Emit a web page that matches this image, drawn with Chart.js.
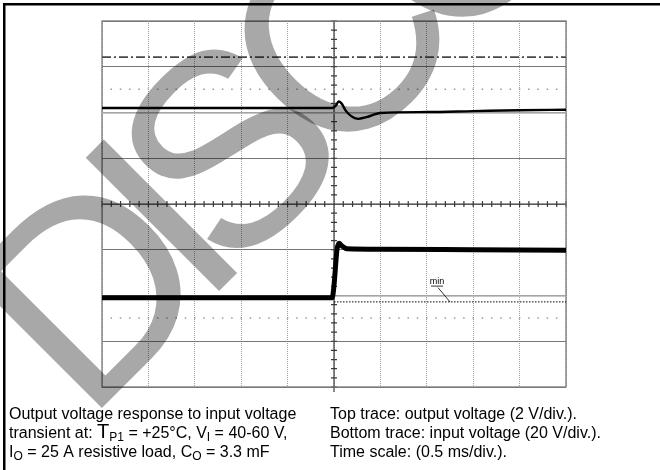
<!doctype html>
<html lang="en">
<head>
<meta charset="utf-8">
<title>Output voltage response to input voltage transient</title>
<script src="https://cdn.jsdelivr.net/npm/chart.js@4.4.1/dist/chart.umd.min.js"></script>
<style>
  body { margin: 0; background: #fff; }
  canvas { display: block; }
</style>
</head>
<body>
<canvas id="scope" width="660" height="470"></canvas>
<script>
// time in ms (0.5 ms/div), levels in screen divisions (8 div high)
var outT = [-2.5, -1.5, -0.5, -0.02, 0.02, 0.05, 0.08, 0.13, 0.2, 0.26, 0.35, 0.5, 1.0, 1.5, 2.0, 2.5];
var outV = [2.10, 2.10, 2.10, 2.10, 2.15, 2.24, 2.20, 2.03, 1.90, 1.86, 1.90, 1.99, 2.01, 2.03, 2.05, 2.06];

var inT = [-2.5, -1.0, -0.02, 0, 0.022, 0.032, 0.054, 0.086, 0.14, 0.5, 1.5, 2.5];
var inV = [-2.05, -2.05, -2.05, -1.78, -1.22, -1.0, -0.86, -0.92, -0.98, -0.99, -1.0, -1.01];

var dashDotLevel = 3.21;
var grayLevels = [1.99, -2.01];
var dottedLevels = [2.51, -2.49];
var minLevel = -2.14;
var minStart = 0;

var tRange = [-2.5, 2.5];
var divRange = [-4, 4];

var caption = [
  [{t: 'Output voltage response to input voltage'}],
  [{t: 'transient at: '}, {t: 'T', big: true}, {t: 'P1', sub: true}, {t: ' = +25\u00b0C, V'}, {t: 'I', sub: true}, {t: ' = 40-60 V,'}],
  [{t: 'I'}, {t: 'O', sub: true}, {t: ' = 25 A resistive load, C'}, {t: 'O', sub: true}, {t: ' = 3.3 mF'}]
];
var notes = ['Top trace: output voltage (2 V/div.).', 'Bottom trace: input voltage (20 V/div.).', 'Time scale: (0.5 ms/div.).'];

function pts(xs, ys) {
  return xs.map(function (x, i) { return {x: x, y: ys[i]}; });
}
function level(v, from) {
  return [{x: from, y: v}, {x: tRange[1], y: v}];
}

var datasets = [
  {label: 'Output voltage', data: pts(outT, outV), borderColor: '#000', borderWidth: 2.4, cubicInterpolationMode: 'monotone'},
  {label: 'Input voltage', data: pts(inT, inV), borderColor: '#000', borderWidth: 5, cubicInterpolationMode: 'monotone'},
  {label: 'min', data: level(minLevel, minStart), borderColor: '#000', borderWidth: 1, borderDash: [1.5, 1.5]},
  {label: 'ref', data: level(dashDotLevel, tRange[0]), borderColor: '#4a4a4a', borderWidth: 1.6, borderDash: [9, 3, 2, 3]},
  {label: 'g1', data: level(grayLevels[0], tRange[0]), borderColor: '#b4b4b4', borderWidth: 1.5},
  {label: 'g2', data: level(grayLevels[1], tRange[0]), borderColor: '#b4b4b4', borderWidth: 1.5},
  {label: 'd1', data: level(dottedLevels[0], tRange[0]), borderColor: '#9a9a9a', borderWidth: 1.5, borderDash: [1.5, 7.78], borderDashOffset: -8.5},
  {label: 'd2', data: level(dottedLevels[1], tRange[0]), borderColor: '#9a9a9a', borderWidth: 1.5, borderDash: [1.5, 7.78], borderDashOffset: -8.5}
];

var scopeDecor = {
  id: 'scopeDecor',
  beforeDatasetsDraw: function (chart) {
    var ctx = chart.ctx, a = chart.chartArea;
    var xs = chart.scales.x, ys = chart.scales.y;
    var cx = xs.getPixelForValue(0), cy = ys.getPixelForValue(0);
    ctx.save();
    ctx.strokeStyle = '#3a3a3a';
    ctx.lineWidth = 1.2;
    ctx.beginPath();
    ctx.moveTo(cx, a.top); ctx.lineTo(cx, a.bottom + 5);
    ctx.moveTo(a.left, cy); ctx.lineTo(a.right, cy);
    var t, d;
    for (t = tRange[0]; t <= tRange[1] + 1e-6; t += 0.1) {
      var px = xs.getPixelForValue(t);
      ctx.moveTo(px, cy - 3); ctx.lineTo(px, cy + 3);
    }
    for (d = divRange[0]; d <= divRange[1] + 1e-6; d += 0.2) {
      var py = ys.getPixelForValue(d);
      ctx.moveTo(cx - 3, py); ctx.lineTo(cx + 3, py);
    }
    ctx.stroke();
    ctx.strokeStyle = '#7a7a7a';
    ctx.lineWidth = 1.3;
    ctx.strokeRect(a.left, a.top, a.right - a.left, a.bottom - a.top);
    ctx.restore();
  },
  afterDraw: function (chart) {
    var ctx = chart.ctx;
    var xs = chart.scales.x, ys = chart.scales.y;
    ctx.save();
    // "min" marker
    var lx = xs.getPixelForValue(1.11), ly = ys.getPixelForValue(minLevel + 0.4);
    ctx.fillStyle = '#000';
    ctx.font = '9px "Liberation Sans", Arial, sans-serif';
    ctx.textAlign = 'center';
    ctx.fillText('min', lx, ly);
    ctx.strokeStyle = '#000';
    ctx.lineWidth = 0.8;
    ctx.beginPath();
    ctx.moveTo(lx - 6, ly + 2.5); ctx.lineTo(lx + 6, ly + 2.5);
    ctx.moveTo(lx + 1, ly + 4); ctx.lineTo(xs.getPixelForValue(1.25), ys.getPixelForValue(minLevel));
    ctx.stroke();

    // page frame
    ctx.fillStyle = '#000';
    ctx.fillRect(3, 3, chart.width - 3, 2.5);
    ctx.fillRect(3, 3, 2.5, chart.height - 3);

    // caption
    ctx.textAlign = 'left';
    var base = [419, 438, 457];
    caption.forEach(function (segs, i) {
      var x = 9;
      segs.forEach(function (s) {
        var size = s.big ? 20 : (s.sub ? 12 : 16);
        ctx.font = size + 'px "Liberation Sans", Arial, sans-serif';
        ctx.fillText(s.t, x, base[i] + (s.sub ? 3 : 0));
        x += ctx.measureText(s.t).width;
      });
    });
    ctx.font = '16px "Liberation Sans", Arial, sans-serif';
    notes.forEach(function (n, i) { ctx.fillText(n, 330, base[i]); });

    // watermark, letters drawn one by one with tight spacing
    ctx.globalCompositeOperation = 'multiply';
    ctx.fillStyle = '#a8a8a8';
    ctx.font = '274px "Liberation Sans", Arial, sans-serif';
    ctx.translate(86, 424);
    ctx.rotate(-Math.PI / 4);
    var wx = 0;
    'DISCONTINUED'.split('').forEach(function (ch) {
      ctx.fillText(ch, wx, 0);
      wx += ctx.measureText(ch).width - 35;
    });
    ctx.restore();
  }
};

new Chart(document.getElementById('scope'), {
  type: 'line',
  data: {datasets: datasets},
  options: {
    responsive: false,
    animation: false,
    layout: {padding: {left: 102, right: 94, top: 21, bottom: 83}},
    elements: {point: {radius: 0}, line: {tension: 0}},
    plugins: {legend: {display: false}, tooltip: {enabled: false}},
    scales: {
      x: {
        type: 'linear', min: tRange[0], max: tRange[1],
        ticks: {display: false, stepSize: 0.5},
        grid: {color: '#9c9c9c', lineWidth: 1, drawTicks: false},
        border: {display: false, dash: [1, 1]}
      },
      y: {
        type: 'linear', min: divRange[0], max: divRange[1],
        ticks: {display: false, stepSize: 1},
        grid: {color: '#777', lineWidth: 1, drawTicks: false},
        border: {display: false}
      }
    }
  },
  plugins: [scopeDecor]
});
</script>
</body>
</html>
